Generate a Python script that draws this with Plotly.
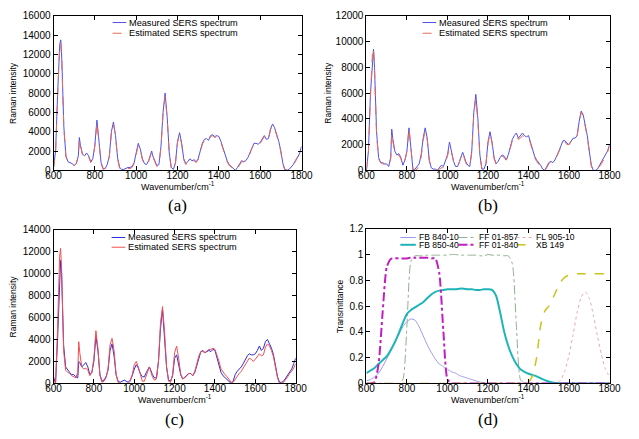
import plotly.graph_objects as go

W, H = 639, 439

# ---------------- data ----------------
# Raman shift sampling grid (cm^-1)
WAVENUMBER = sorted(list(range(600, 1801, 10)) + [635, 725, 1075])

A_MEASURED = [
    300, 2000, 8000, 13000, 13500, 11500, 4500, 1500, 900, 800,
    700, 500, 700, 1500, 3400, 2600, 1700, 1500, 1800, 1500,
    900, 1200, 2600, 5200, 3200, 800, 200, 200, 600, 1500,
    4000, 5000, 3600, 1300, 300, 100, 100, 200, 300, 300,
    400, 800, 2000, 2800, 2200, 1200, 700, 600, 1000, 1800,
    2000, 1500, 900, 500, 600, 2500, 6000, 8000, 5500, 1800,
    300, 100, 800, 3000, 3900, 2800, 1200, 700, 900, 1200,
    1000, 1100, 900, 1200, 2000, 2800, 3200, 3300, 3100, 3600,
    3700, 3500, 3600, 3500, 3000, 2300, 1500, 1000, 600, 400,
    200, 0, 300, 700, 1000, 900, 1000, 1300, 1800, 2400,
    2800, 2800, 2700, 2900, 3300, 3600, 3200, 3300, 4300, 4800,
    4400, 3800, 3000, 2000, 700, 100, 0, 100, 300, 600,
    1000, 1400, 1700, 2500,
]
A_ESTIMATED = [
    200, 1800, 7800, 12800, 13200, 11200, 4300, 1400, 800, 700,
    600, 500, 700, 1400, 3200, 2500, 1600, 1400, 1700, 1400,
    800, 1100, 2500, 5000, 3100, 700, 100, 200, 600, 1400,
    3800, 4800, 3500, 1200, 200, 0, 0, 100, 200, 200,
    300, 700, 1800, 2600, 2100, 1100, 600, 500, 900, 1700,
    1900, 1400, 800, 400, 500, 2400, 5800, 7700, 5300, 1700,
    200, 0, 700, 2900, 3700, 2700, 1100, 600, 800, 1100,
    900, 1000, 800, 1100, 1900, 2700, 3100, 3200, 3000, 3500,
    3600, 3400, 3500, 3400, 2900, 2200, 1400, 900, 500, 300,
    100, 0, 200, 600, 900, 900, 1000, 1300, 1700, 2300,
    2700, 2700, 2600, 2800, 3200, 3500, 3100, 3200, 4200, 4700,
    4300, 3700, 2900, 1900, 600, 0, 0, 0, 200, 500,
    900, 1300, 1600, 2100,
]
B_MEASURED = [
    0, 1500, 6000, 9000, 9400, 8000, 3000, 1000, 600, 600,
    500, 500, 300, 1000, 3200, 2500, 1500, 1200, 1300, 1000,
    400, 800, 1500, 3300, 1500, 0, 100, 300, 500, 1200,
    2500, 3300, 2500, 800, 200, 100, 100, 0, 200, 400,
    300, 800, 1200, 2200, 1500, 700, 300, 300, 700, 1300,
    1400, 1200, 700, 400, 300, 1500, 4500, 5900, 4000, 1200,
    100, 100, 500, 2200, 3000, 2200, 1000, 500, 700, 1000,
    1200, 1100, 800, 1200, 1800, 2400, 2700, 2900, 2500, 2700,
    2900, 2700, 2600, 2700, 2200, 1600, 1100, 800, 600, 400,
    100, 0, 300, 600, 700, 600, 800, 1100, 1500, 1900,
    2300, 2300, 2100, 2000, 2300, 2500, 2500, 2700, 3800, 4600,
    4300, 3500, 2700, 1500, 400, 0, 0, 100, 400, 600,
    900, 1200, 1500, 2000,
]
B_ESTIMATED = [
    0, 1400, 5800, 9200, 9500, 7800, 2800, 900, 600, 500,
    500, 400, 300, 900, 2900, 2300, 1400, 1100, 1200, 900,
    400, 700, 1500, 3300, 1500, 100, 0, 100, 400, 1000,
    2300, 3100, 2400, 800, 200, 0, 0, 0, 100, 200,
    200, 600, 1100, 1800, 1400, 700, 300, 300, 700, 1300,
    1400, 1100, 600, 300, 300, 1400, 4300, 5600, 3800, 1100,
    100, 0, 500, 2100, 2900, 2100, 900, 500, 700, 900,
    1100, 1000, 800, 1100, 1700, 2300, 2600, 2700, 2400, 2500,
    2700, 2600, 2500, 2600, 2100, 1500, 1000, 700, 500, 300,
    100, 0, 200, 500, 700, 700, 800, 1100, 1400, 1800,
    2200, 2200, 2000, 2000, 2300, 2500, 2500, 2700, 3700, 4500,
    4200, 3400, 2600, 1400, 300, 0, 0, 100, 300, 500,
    800, 1100, 1400, 1900,
]
C_MEASURED = [
    600, 0, 4000, 10000, 11200, 10000, 3500, 1500, 1200, 1000,
    800, 800, 600, 500, 2000, 1900, 1500, 1700, 1900, 1500,
    800, 1000, 2000, 4300, 3000, 800, 200, 300, 600, 1200,
    3000, 3600, 2500, 800, 200, 100, 200, 300, 200, 100,
    300, 700, 1300, 1700, 1400, 900, 600, 600, 1000, 1400,
    1500, 1300, 800, 500, 500, 2000, 5000, 6700, 4500, 1500,
    300, 200, 700, 2300, 2600, 1800, 800, 400, 600, 800,
    900, 900, 700, 1000, 1700, 2400, 2900, 3000, 2800, 2900,
    3000, 2900, 3100, 3000, 2400, 1700, 1000, 700, 500, 300,
    100, 0, 200, 800, 1100, 1300, 1500, 1800, 2200, 2500,
    2700, 2600, 2600, 2700, 3000, 3400, 3000, 3200, 3800, 4000,
    3600, 3200, 2600, 1600, 600, 100, 100, 200, 500, 800,
    1100, 1300, 1800, 2300,
]
C_ESTIMATED = [
    300, 0, 5000, 11500, 12300, 10500, 3000, 1200, 1000, 900,
    700, 600, 500, 1000, 3800, 2800, 1500, 1300, 1400, 1200,
    700, 1000, 2300, 4800, 3200, 700, 100, 200, 500, 1300,
    3500, 4100, 3000, 800, 100, 0, 0, 0, 0, 0,
    200, 800, 1700, 2000, 1500, 700, 200, 200, 800, 1400,
    1500, 1200, 600, 300, 400, 2000, 5500, 7000, 4800, 1500,
    200, 100, 800, 2800, 3400, 2300, 900, 400, 500, 700,
    900, 900, 700, 1100, 1800, 2500, 2900, 2900, 2800, 3000,
    3100, 3100, 3200, 3100, 2600, 2000, 1300, 1000, 800, 600,
    300, 100, 100, 400, 700, 900, 1100, 1400, 1800, 2100,
    2300, 2200, 2000, 2200, 2500, 2700, 2500, 2600, 3300, 3600,
    3400, 3000, 2400, 1500, 500, 0, 0, 100, 300, 600,
    900, 1100, 1400, 1800,
]

# Filter transmittance grid (cm^-1)
FILTER_WN = list(range(600, 1801, 20))
FB_840_10 = [
    0.02, 0.03, 0.05, 0.08, 0.13, 0.19, 0.25, 0.31, 0.38, 0.44,
    0.48, 0.50, 0.49, 0.44, 0.37, 0.30, 0.24, 0.19, 0.15, 0.13,
    0.11, 0.09, 0.08, 0.06, 0.05, 0.04, 0.03, 0.02, 0.01, 0.005,
    0, 0, 0, 0, 0, 0, 0, 0, 0, 0,
    0, 0, 0, 0, 0, 0, 0, 0, 0, 0,
    0, 0, 0, 0, 0, 0, 0, 0, 0, 0,
    0,
]
FB_850_40 = [
    0.08, 0.10, 0.12, 0.15, 0.18, 0.21, 0.26, 0.32, 0.39, 0.47,
    0.54, 0.57, 0.59, 0.61, 0.63, 0.66, 0.69, 0.71, 0.72, 0.725,
    0.73, 0.73, 0.73, 0.735, 0.735, 0.73, 0.73, 0.725, 0.725, 0.73,
    0.73, 0.725, 0.68, 0.55, 0.40, 0.29, 0.21, 0.15, 0.11, 0.09,
    0.075, 0.065, 0.055, 0.04, 0.025, 0.015, 0.008, 0.003, 0, 0,
    0, 0, 0, 0, 0, 0, 0, 0, 0, 0,
    0,
]
FF_01_857 = [
    0, 0, 0, 0, 0, 0, 0, 0, 0, 0.03,
    0.45, 0.95, 0.99, 0.99, 0.99, 0.995, 0.995, 0.995, 0.995, 0.995,
    0.995, 1.0, 1.0, 0.995, 0.995, 0.995, 0.995, 0.995, 0.99, 0.99,
    1.0, 0.995, 0.995, 0.995, 0.99, 0.99, 0.93, 0.45, 0.03, 0,
    0, 0, 0, 0, 0, 0, 0, 0, 0, 0,
    0, 0, 0, 0, 0, 0, 0, 0, 0, 0,
    0,
]
FF_01_840 = [
    0, 0, 0.01, 0.15, 0.55, 0.9, 0.965, 0.97, 0.97, 0.97,
    0.97, 0.975, 0.975, 0.975, 0.975, 0.975, 0.97, 0.97, 0.85, 0.4,
    0.03, 0, 0, 0, 0, 0, 0, 0, 0, 0,
    0, 0, 0, 0, 0, 0, 0, 0, 0, 0,
    0, 0, 0, 0, 0, 0, 0, 0, 0, 0,
    0, 0, 0, 0, 0, 0, 0, 0, 0, 0,
    0,
]
FL_905_10 = [
    0, 0, 0, 0, 0, 0, 0, 0, 0, 0,
    0, 0, 0, 0, 0, 0, 0, 0, 0, 0,
    0, 0, 0, 0, 0, 0, 0, 0, 0, 0,
    0, 0, 0, 0, 0, 0, 0, 0, 0, 0,
    0, 0, 0, 0, 0, 0, 0, 0.001, 0.03, 0.1,
    0.22, 0.38, 0.55, 0.67, 0.71, 0.66, 0.53, 0.37, 0.22, 0.11,
    0.05,
]
XB_149 = [
    0, 0, 0, 0, 0, 0, 0, 0, 0, 0,
    0, 0, 0, 0, 0, 0, 0, 0, 0, 0,
    0, 0, 0, 0, 0, 0, 0, 0, 0, 0,
    0, 0, 0, 0, 0, 0, 0, 0, 0, 0,
    0.01, 0.06, 0.2, 0.45, 0.56, 0.6, 0.66, 0.73, 0.79, 0.825,
    0.84, 0.845, 0.85, 0.85, 0.85, 0.85, 0.85, 0.85, 0.85, 0.85,
    0.85,
]

X_TICKS = [600, 800, 1000, 1200, 1400, 1600, 1800]
Y_TICKS_A = [0, 2000, 4000, 6000, 8000, 10000, 12000, 14000, 16000]
Y_TICKS_B = [0, 2000, 4000, 6000, 8000, 10000, 12000]
Y_TICKS_C = [0, 2000, 4000, 6000, 8000, 10000, 12000, 14000]
Y_TICKS_D = [0, 0.2, 0.4, 0.6, 0.8, 1.0, 1.2]
Y_TICKTEXT_D = ["0", "0.2", "0.4", "0.6", "0.8", "1", "1.2"]

for arr in (A_MEASURED, A_ESTIMATED, B_MEASURED, B_ESTIMATED, C_MEASURED, C_ESTIMATED):
    assert len(arr) == len(WAVENUMBER), len(arr)
for arr in (FB_840_10, FB_850_40, FF_01_857, FF_01_840, FL_905_10, XB_149):
    assert len(arr) == len(FILTER_WN), len(arr)

# ---------------- layout helpers ----------------
FONT = "Arial, Liberation Sans, sans-serif"
SERIF = "Times New Roman, Liberation Serif, serif"


def fx(p):
    return p / W


def fy(p):
    return 1 - p / H


# panel pixel boxes: left, right, top, bottom
BOX = {
    "a": (47, 303, 10, 169),
    "b": (370, 621, 10, 169),
    "c": (47, 297, 230, 388),
    "d": (370, 621, 229, 388),
}
AX = {"a": ("x", "y", ""), "b": ("x2", "y2", "2"), "c": ("x3", "y3", "3"), "d": ("x4", "y4", "4")}

fig = go.Figure()

MEAS_AB = dict(color="#5050e8", width=1)
EST_AB = dict(color="#e86a5a", width=1, dash="dash")
MEAS_C = dict(color="#2a2ae0", width=1)
EST_C = dict(color="#f05050", width=1)

for key, meas, est, ml, el in (
    ("a", A_MEASURED, A_ESTIMATED, MEAS_AB, EST_AB),
    ("b", B_MEASURED, B_ESTIMATED, MEAS_AB, EST_AB),
    ("c", C_MEASURED, C_ESTIMATED, MEAS_C, EST_C),
):
    xa, ya, _ = AX[key]
    fig.add_trace(go.Scatter(x=WAVENUMBER, y=meas, mode="lines", line=ml, name="Measured SERS spectrum",
                             xaxis=xa, yaxis=ya, showlegend=False))
    fig.add_trace(go.Scatter(x=WAVENUMBER, y=est, mode="lines", line=el, name="Estimated SERS spectrum",
                             xaxis=xa, yaxis=ya, showlegend=False))

FILTER_STYLE = [
    ("FB 840-10", FB_840_10, dict(color="#9a9aec", width=1)),
    ("FF 01-857", FF_01_857, dict(color="#8fb08f", width=1, dash="dashdot")),
    ("FL 905-10", FL_905_10, dict(color="#e6aaaa", width=1, dash="dot")),
    ("FB 850-40", FB_850_40, dict(color="#1fb5b8", width=2)),
    ("FF 01-840", FF_01_840, dict(color="#c21fc2", width=2, dash="dashdot")),
    ("XB 149", XB_149, dict(color="#cbc21a", width=1.5, dash="dash")),
]
for name, vals, ln in FILTER_STYLE:
    fig.add_trace(go.Scatter(x=FILTER_WN, y=vals, mode="lines", line=dict(shape="spline", smoothing=0.6, **ln),
                             name=name, xaxis="x4", yaxis="y4", showlegend=False))

layout = dict(
    width=W, height=H, margin=dict(l=0, r=0, t=0, b=0),
    paper_bgcolor="white", plot_bgcolor="white", showlegend=False,
    font=dict(family=FONT, color="black"),
)

YT = {"a": (Y_TICKS_A, [str(v) for v in Y_TICKS_A], [0, 16000]),
      "b": (Y_TICKS_B, [str(v) for v in Y_TICKS_B], [0, 12000]),
      "c": (Y_TICKS_C, [str(v) for v in Y_TICKS_C], [0, 14000]),
      "d": (Y_TICKS_D, Y_TICKTEXT_D, [0, 1.2])}

common = dict(showline=True, linecolor="black", linewidth=1, mirror="ticks", ticks="inside",
              ticklen=4, tickcolor="black", showgrid=False, zeroline=False,
              tickfont=dict(size=10, family=FONT, color="black"))

for key, (l, r, t, b) in BOX.items():
    _, _, s = AX[key]
    layout["xaxis" + s] = dict(domain=[fx(l), fx(r)], range=[600, 1800], tickvals=X_TICKS,
                               ticktext=[str(v) for v in X_TICKS], anchor="y" + s,
                               ticklabelstandoff=-4, **common)
    tv, tt, rg = YT[key]
    layout["yaxis" + s] = dict(domain=[fy(b), fy(t)], range=rg, tickvals=tv, ticktext=tt,
                               anchor="x" + s, **common)

fig.update_layout(**layout)

ann = []
shapes = []

# axis titles and panel labels
for key, (l, r, t, b) in BOX.items():
    cx = (l + r) / 2
    ann.append(dict(x=fx(cx), y=fy(b + 16), xref="paper", yref="paper", showarrow=False,
                    text="Wavenumber/cm<sup>-1</sup>", font=dict(size=9, family=FONT),
                    xanchor="center", yanchor="middle"))
    ylabel = "Transmittance" if key == "d" else "Raman intensity"
    yx = {"a": 5, "b": 330, "c": 5, "d": 343}[key]
    ann.append(dict(x=fx(yx), y=fy((t + b) / 2), xref="paper", yref="paper", showarrow=False,
                    text=ylabel, textangle=-90, font=dict(size=8.5, family=FONT),
                    xanchor="center", yanchor="middle"))
    ly = {"a": 205, "b": 205, "c": 425, "d": 425}[key]
    ann.append(dict(x=fx(cx), y=fy(ly), xref="paper", yref="paper", showarrow=False,
                    text="(%s)" % key, font=dict(size=17, family=SERIF),
                    xanchor="center", yanchor="middle"))

# legends for spectra panels
for key, x0, rows, ml, el in (
    ("a", 108, (17, 28), MEAS_AB, EST_AB),
    ("b", 428, (17, 28), MEAS_AB, EST_AB),
    ("c", 107, (238, 248), MEAS_C, EST_C),
):
    for (label, ln), yy in zip((("Measured SERS spectrum", ml), ("Estimated SERS spectrum", el)), rows):
        shapes.append(dict(type="line", xref="paper", yref="paper", x0=fx(x0), x1=fx(x0 + 14),
                           y0=fy(yy), y1=fy(yy), line=ln))
        ann.append(dict(x=fx(x0 + 15), y=fy(yy), xref="paper", yref="paper", showarrow=False,
                        text=label, font=dict(size=9.2, family=FONT), xanchor="left", yanchor="middle"))

# legend for filter panel
cols = [(405, 421), (465, 483), (525, 542)]
rows_d = [238, 245.5]
for i, (name, vals, ln) in enumerate(FILTER_STYLE):
    r_i, c_i = divmod(i, 3)
    xa0, xa1 = cols[c_i]
    yy = rows_d[r_i]
    shapes.append(dict(type="line", xref="paper", yref="paper", x0=fx(xa0), x1=fx(xa1),
                       y0=fy(yy), y1=fy(yy), line=ln))
    ann.append(dict(x=fx(xa1 + 1), y=fy(yy), xref="paper", yref="paper", showarrow=False,
                    text=name, font=dict(size=8.5, family=FONT), xanchor="left", yanchor="middle"))

fig.update_layout(annotations=ann, shapes=shapes)
fig.write_html("out.html", config={"displayModeBar": False},
               post_script="document.body.style.margin='0';document.body.style.padding='0';")
